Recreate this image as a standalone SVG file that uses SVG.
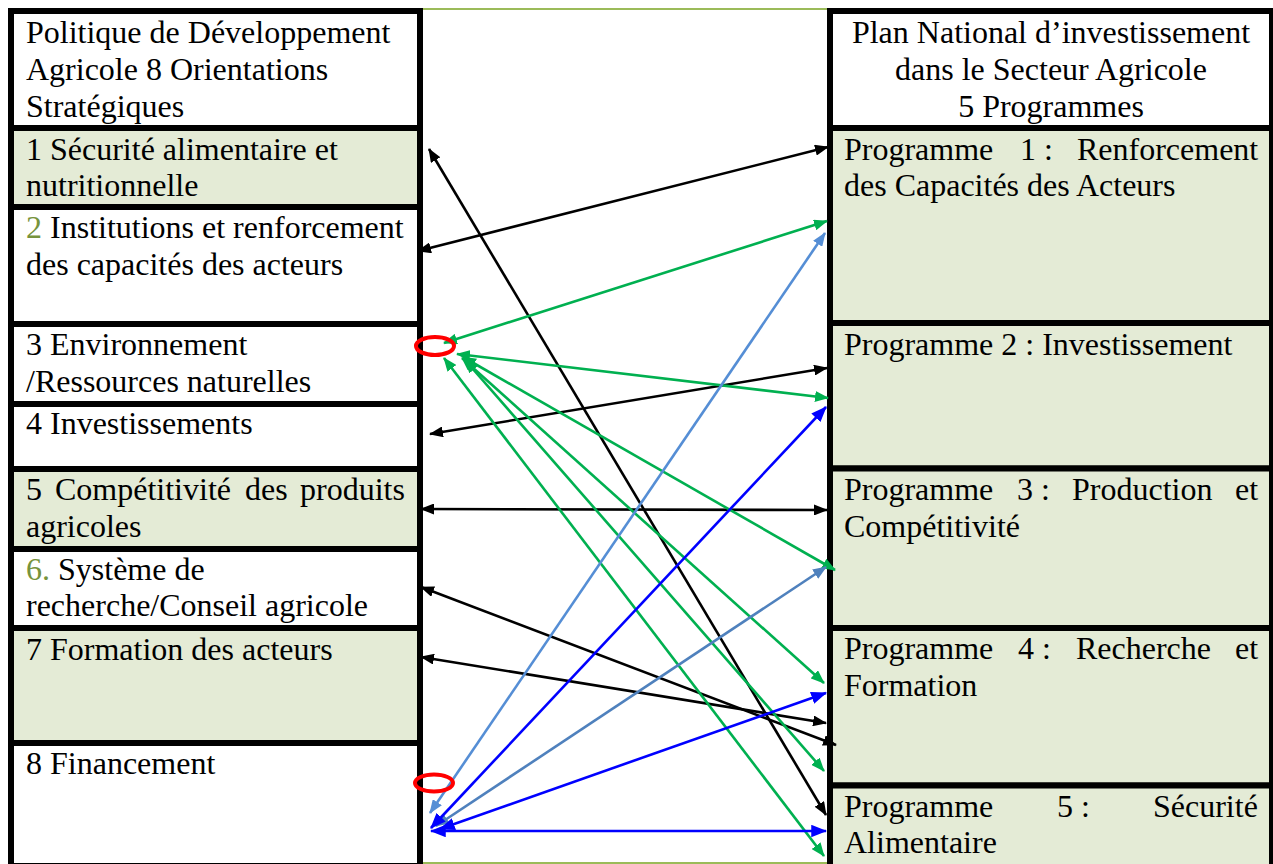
<svg xmlns="http://www.w3.org/2000/svg" width="1273" height="864" viewBox="0 0 1273 864">
<style>
.cell{stroke:#000;stroke-width:6}
.w{fill:#fff}
.g{fill:#E4EBD6}
text{font-family:"Liberation Serif","Times New Roman",serif;font-size:32px;fill:#000}
.num{fill:#77933C}
.k{stroke:#000;stroke-width:2.6;fill:none}
.gr{stroke:#00B050;stroke-width:2.6;fill:none}
.lb{stroke:#558ED5;stroke-width:2.6;fill:none}
.sb{stroke:#4F81BD;stroke-width:2.6;fill:none}
.b{stroke:#0000FF;stroke-width:2.6;fill:none}
.red{fill:none;stroke:#FF0000;stroke-width:4}
.rule{stroke:#9BBB59;stroke-width:2}
</style>
<defs>
<marker id="mk" viewBox="0 0 14 11" refX="13" refY="5.5" markerWidth="14" markerHeight="11" markerUnits="userSpaceOnUse" orient="auto-start-reverse"><path d="M0,0 L14,5.5 L0,11 z" fill="#000"/></marker>
<marker id="mg" viewBox="0 0 14 11" refX="13" refY="5.5" markerWidth="14" markerHeight="11" markerUnits="userSpaceOnUse" orient="auto-start-reverse"><path d="M0,0 L14,5.5 L0,11 z" fill="#00B050"/></marker>
<marker id="mlb" viewBox="0 0 14 11" refX="13" refY="5.5" markerWidth="14" markerHeight="11" markerUnits="userSpaceOnUse" orient="auto-start-reverse"><path d="M0,0 L14,5.5 L0,11 z" fill="#558ED5"/></marker>
<marker id="msb" viewBox="0 0 14 11" refX="13" refY="5.5" markerWidth="14" markerHeight="11" markerUnits="userSpaceOnUse" orient="auto-start-reverse"><path d="M0,0 L14,5.5 L0,11 z" fill="#4F81BD"/></marker>
<marker id="mb" viewBox="0 0 14 11" refX="13" refY="5.5" markerWidth="16" markerHeight="12.5" markerUnits="userSpaceOnUse" orient="auto-start-reverse"><path d="M0,0 L14,5.5 L0,11 z" fill="#0000FF"/></marker>
</defs>
<rect width="1273" height="864" fill="#fff"/>
<line class="rule" x1="423" y1="9" x2="827" y2="9"/>
<line class="rule" x1="423" y1="863" x2="827" y2="863"/>

<g id="left-header"><rect class="cell w" x="11" y="11" width="409" height="117"/>
<text x="26" y="43">Politique de Développement</text><text x="26" y="80">Agricole 8 Orientations</text><text x="26" y="117">Stratégiques</text></g>
<g id="o1"><rect class="cell g" x="11" y="128" width="409" height="79"/>
<text x="26" y="160">1 Sécurité alimentaire et</text><text x="26" y="196">nutritionnelle</text></g>
<g id="o2"><rect class="cell w" x="11" y="207" width="409" height="117"/>
<text x="26" y="238"><tspan class="num">2</tspan> Institutions et renforcement</text><text x="26" y="275">des capacités des acteurs</text></g>
<g id="o3"><rect class="cell w" x="11" y="324" width="409" height="80"/>
<text x="26" y="355">3 Environnement</text><text x="26" y="392">/Ressources naturelles</text></g>
<g id="o4"><rect class="cell w" x="11" y="404" width="409" height="65"/>
<text x="26" y="434">4 Investissements</text></g>
<g id="o5"><rect class="cell g" x="11" y="469" width="409" height="80"/>
<text y="500"><tspan x="26">5</tspan><tspan x="55">Compétitivité</tspan><tspan x="245">des</tspan><tspan x="300">produits</tspan></text><text x="26" y="537">agricoles</text></g>
<g id="o6"><rect class="cell w" x="11" y="549" width="409" height="79"/>
<text x="26" y="580"><tspan class="num">6.</tspan> Système de</text><text x="26" y="616">recherche/Conseil agricole</text></g>
<g id="o7"><rect class="cell g" x="11" y="628" width="409" height="115"/>
<text x="26" y="660">7 Formation des acteurs</text></g>
<g id="o8"><rect class="cell w" x="11" y="743" width="409" height="130"/>
<text x="26" y="774">8 Financement</text></g>
<line x1="11" y1="863.5" x2="420" y2="863.5" stroke="#000" stroke-width="1"/>

<g id="right-header"><rect class="cell w" x="830" y="11" width="442" height="117"/>
<text x="1051" y="43" text-anchor="middle">Plan National d’investissement</text><text x="1051" y="80" text-anchor="middle">dans le Secteur Agricole</text><text x="1051" y="117" text-anchor="middle">5 Programmes</text></g>
<g id="p1"><rect class="cell g" x="830" y="128" width="442" height="195"/>
<text y="160"><tspan x="844">Programme</tspan><tspan x="1020">1 :</tspan><tspan x="1077">Renforcement</tspan></text><text x="844" y="196">des Capacités des Acteurs</text></g>
<g id="p2"><rect class="cell g" x="830" y="323" width="442" height="145.5"/>
<text x="844" y="355">Programme 2 : Investissement</text></g>
<g id="p3"><rect class="cell g" x="830" y="468.5" width="442" height="159.5"/>
<text y="500"><tspan x="844">Programme</tspan><tspan x="1017">3 :</tspan><tspan x="1072">Production</tspan><tspan x="1235">et</tspan></text><text x="844" y="537">Compétitivité</text></g>
<g id="p4"><rect class="cell g" x="830" y="628" width="442" height="157.5"/>
<text y="659"><tspan x="844">Programme</tspan><tspan x="1018">4 :</tspan><tspan x="1076">Recherche</tspan><tspan x="1235">et</tspan></text><text x="844" y="696">Formation</text></g>
<g id="p5"><rect class="cell g" x="830" y="785.5" width="442" height="90"/>
<text y="817"><tspan x="844">Programme</tspan><tspan x="1057">5 :</tspan><tspan x="1153">Sécurité</tspan></text><text x="844" y="853">Alimentaire</text></g>

<g id="connectors">
<line class="k" x1="429" y1="149" x2="826" y2="815" marker-start="url(#mk)" marker-end="url(#mk)"/>
<line class="k" x1="418" y1="251" x2="828" y2="147" marker-start="url(#mk)" marker-end="url(#mk)"/>
<line class="k" x1="430" y1="434" x2="827" y2="368" marker-start="url(#mk)" marker-end="url(#mk)"/>
<line class="k" x1="421" y1="509" x2="827" y2="510" marker-start="url(#mk)" marker-end="url(#mk)"/>
<line class="k" x1="421" y1="587" x2="836" y2="745" marker-start="url(#mk)" marker-end="url(#mk)"/>
<line class="k" x1="421" y1="657" x2="826" y2="723" marker-start="url(#mk)" marker-end="url(#mk)"/>
<line class="gr" x1="444" y1="343" x2="827" y2="221" marker-start="url(#mg)" marker-end="url(#mg)"/>
<line class="gr" x1="457" y1="354" x2="828" y2="398" marker-start="url(#mg)" marker-end="url(#mg)"/>
<line class="gr" x1="463" y1="357" x2="835" y2="570" marker-start="url(#mg)" marker-end="url(#mg)"/>
<line class="gr" x1="462" y1="358" x2="824" y2="683" marker-start="url(#mg)" marker-end="url(#mg)"/>
<line class="gr" x1="465" y1="360" x2="824" y2="771" marker-start="url(#mg)" marker-end="url(#mg)"/>
<line class="gr" x1="444" y1="358" x2="824" y2="856" marker-start="url(#mg)" marker-end="url(#mg)"/>
<line class="lb" x1="430" y1="813" x2="825" y2="233" marker-start="url(#mlb)" marker-end="url(#mlb)"/>
<line class="sb" x1="436" y1="826" x2="826" y2="567" marker-start="url(#msb)" marker-end="url(#msb)"/>
<line class="b" x1="431" y1="828" x2="826" y2="407" marker-start="url(#mb)" marker-end="url(#mb)"/>
<line class="b" x1="440" y1="829" x2="826" y2="693" marker-start="url(#mb)" marker-end="url(#mb)"/>
<line class="b" x1="431" y1="831" x2="826" y2="831" marker-start="url(#mb)" marker-end="url(#mb)"/>
</g>
<g id="highlights">
<ellipse class="red" cx="435" cy="346" rx="19" ry="9"/>
<ellipse class="red" cx="434" cy="783" rx="19" ry="8.5"/>
</g>
</svg>
